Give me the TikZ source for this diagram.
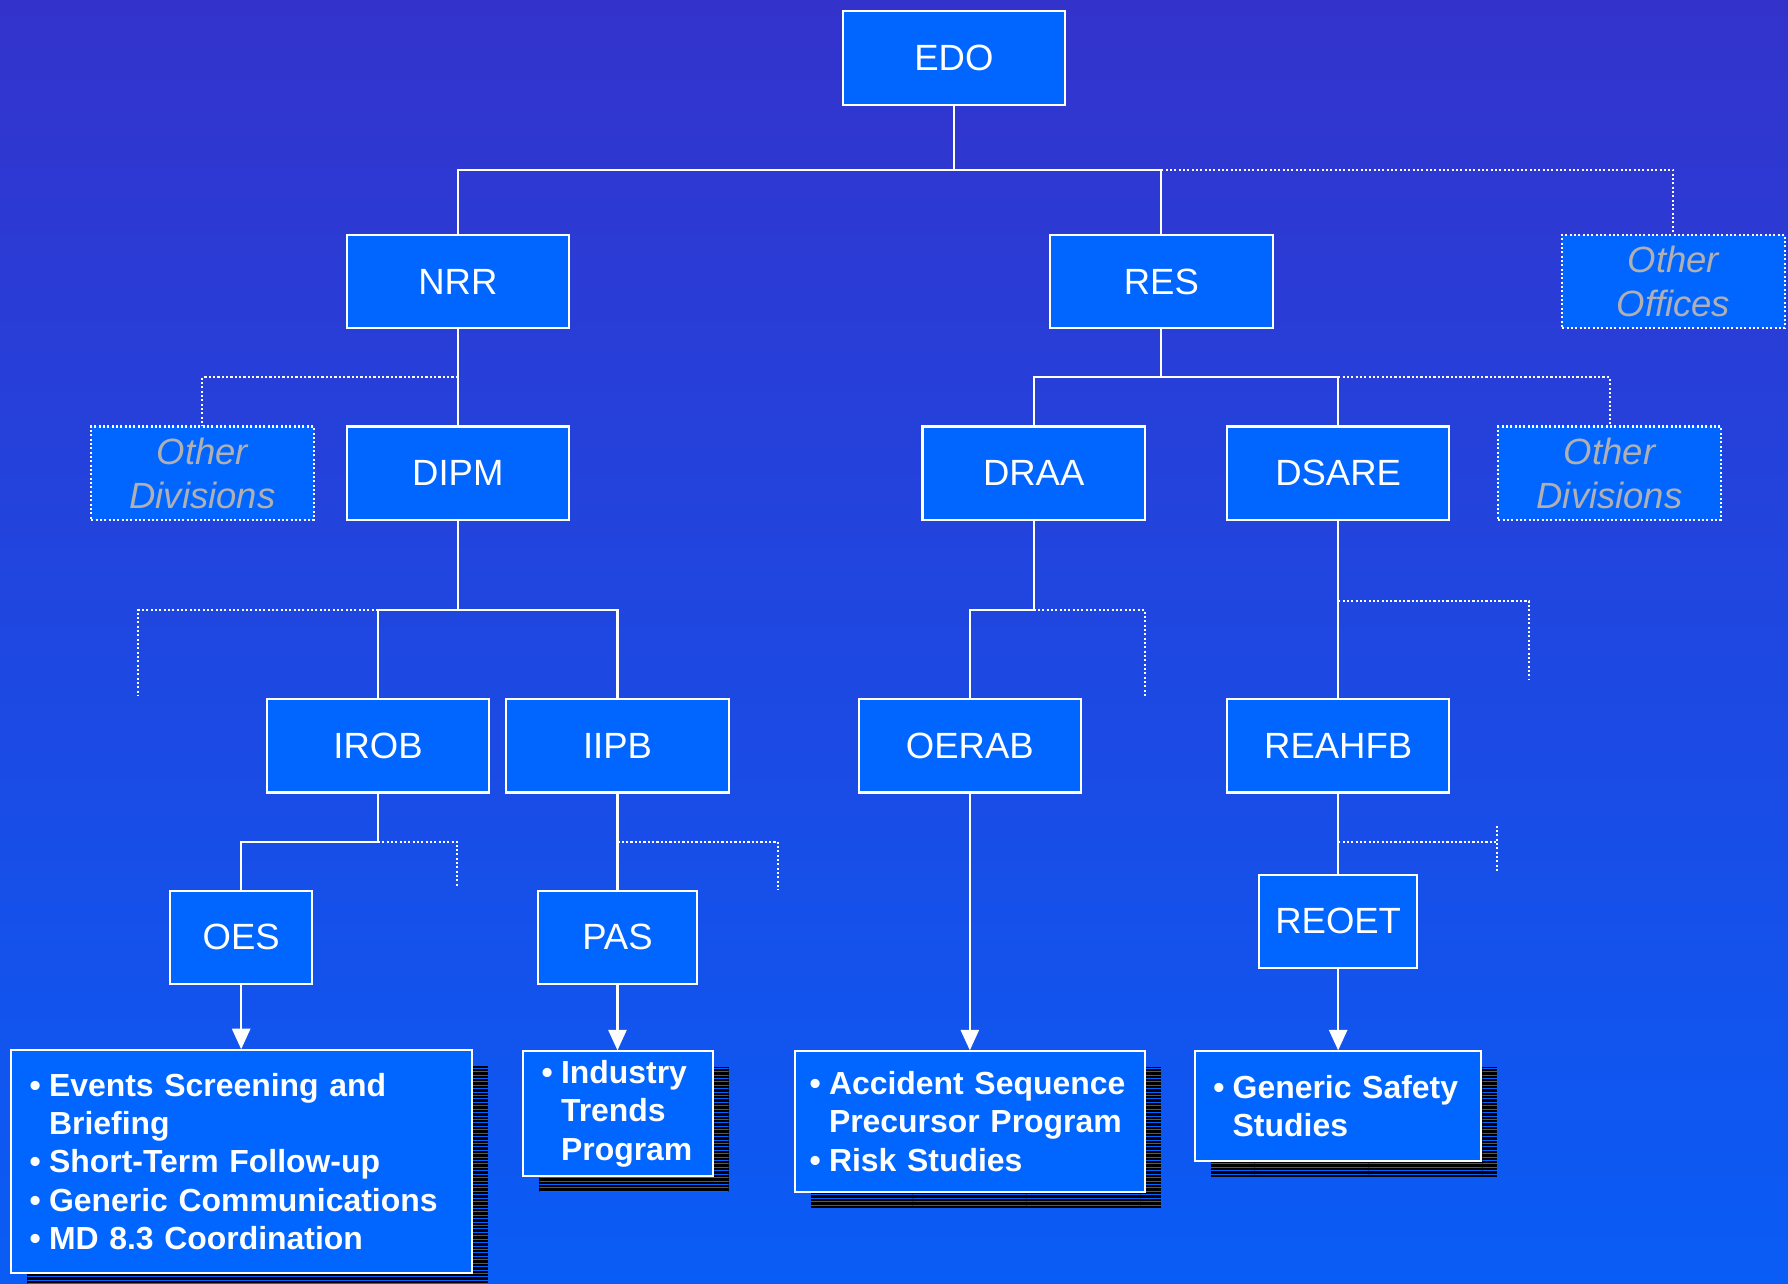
\documentclass[tikz,border=0pt]{standalone}
\usepackage{fontspec}
\setmainfont{Liberation Sans}
\usetikzlibrary{shapes,arrows.meta,positioning,shadows,patterns}
\definecolor{bgtop}{RGB}{51,51,204}
\definecolor{bgbot}{RGB}{10,92,246}
\definecolor{boxblue}{RGB}{0,102,255}
\definecolor{othergray}{RGB}{176,176,180}
\newcommand\bitem{\makebox[17pt][l]{\textbullet}}
\newcommand\bskip{\hspace*{17pt}}
\tikzset{
	unit/.style={draw=white,line width=1.8pt,fill=boxblue,text=white,minimum width=195pt,minimum height=82pt,inner sep=0pt,font=\fontsize{32}{38.4}\selectfont},
	other/.style={unit,dotted,text=othergray,align=center,font=\fontsize{32}{38.4}\selectfont\itshape},
	listbox/.style={draw=white,line width=1.8pt,fill=boxblue,text=white,align=left,inner xsep=16pt,inner ysep=0pt,font=\fontsize{28}{33.6}\selectfont\bfseries,
		general shadow={shadow xshift=14pt,shadow yshift=-14pt,fill=black},
		general shadow={shadow xshift=14pt,shadow yshift=-14pt,pattern=horizontal lines,pattern color=boxblue}},
	conn/.style={draw=white,line width=1.8pt},
	dotconn/.style={draw=white,line width=1.8pt,dotted},
	arr/.style={conn,-{Triangle[width=16pt,length=18pt]}}
}
\begin{document}
\begin{tikzpicture}[x=1pt,y=-1pt]
			\shade[top color=bgtop,bottom color=bgbot] (0,0) rectangle (1568,1126);
			\useasboundingbox (0,0) rectangle (1568,1126);
			\foreach \n/\x/\y/\w in {EDO/836.5/51/195,NRR/401.5/247/195,RES/1018.5/247/195,DIPM/401.5/415/195,DRAA/906.5/415/195,DSARE/1173.5/415/195,IROB/331.5/654/195,IIPB/541.5/654/195,OERAB/850.5/654/195,REAHFB/1173.5/654/195,OES/211.5/822/125,PAS/541.5/822/139,REOET/1173.5/808/139}
				\node[unit,minimum width=\w pt] (\n) at (\x,\y) {\n};
			\node[other] (offices) at (1467.5,247) {Other\\Offices};
			\node[other] (divsNRR) at (177.5,415) {Other\\Divisions};
			\node[other] (divsRES) at (1411.5,415) {Other\\Divisions};
			\node[listbox,minimum width=404pt,minimum height=195pt,text width=372pt] (listOES) at (212,1018.5) {\bitem Events Screening and\\\bskip Briefing\\\bitem Short-Term Follow-up\\\bitem Generic Communications\\\bitem MD 8.3 Coordination};
			\node[listbox,minimum width=166pt,minimum height=109pt,text width=134pt] (listPAS) at (542,976.5) {\bitem Industry\\\bskip Trends\\\bskip Program};
			\node[listbox,minimum width=307pt,minimum height=123pt,inner xsep=13pt,text width=281pt] (listOERAB) at (850.5,983.5) {\bitem \mbox{Accident Sequence}\\\bskip Precursor Program\\\bitem Risk Studies};
			\node[listbox,minimum width=251pt,minimum height=96pt,text width=219pt] (listREOET) at (1173.5,970) {\bitem Generic Safety\\\bskip Studies};
			\coordinate (jEDO) at (836.5,149);
			\coordinate (jNRR) at (401.5,331);
			\coordinate (jRES) at (1018.5,331);
			\coordinate (jDIPM) at (401.5,535);
			\coordinate (jDRAA) at (906.5,535);
			\coordinate (jDSARE) at (1173.5,527);
			\coordinate (jIROB) at (331.5,738);
			\coordinate (jIIPB) at (541.5,738);
			\coordinate (jREAHFB) at (1173.5,738);
			\coordinate (endDIPM) at (121,610);
			\coordinate (endDRAA) at (1004,612);
			\coordinate (endDSARE) at (1341,596);
			\coordinate (endIROB) at (401,778);
			\coordinate (endIIPB) at (682,780);
			\coordinate (endREAHFB) at (1313,738);
			\coordinate (tickA) at (1313,724);
			\coordinate (tickB) at (1313,765);
			\draw[conn] (EDO.south) -- (jEDO);
			\draw[conn] (NRR.north) |- (jEDO) -| (RES.north);
			\draw[dotconn] (RES.north |- jEDO) -| (offices.north);
			\draw[conn] (NRR.south) -- (DIPM.north);
			\draw[dotconn] (jNRR) -| (divsNRR.north);
			\draw[conn] (RES.south) -- (jRES);
			\draw[conn] (DRAA.north) |- (jRES) -| (DSARE.north);
			\draw[dotconn] (DSARE.north |- jRES) -| (divsRES.north);
			\draw[conn] (DIPM.south) -- (jDIPM);
			\draw[conn] (IROB.north) |- (jDIPM) -| (IIPB.north);
			\draw[dotconn] (IROB.north |- jDIPM) -| (endDIPM);
			\draw[conn] (DRAA.south) -- (jDRAA) -| (OERAB.north);
			\draw[dotconn] (jDRAA) -| (endDRAA);
			\draw[conn] (DSARE.south) -- (REAHFB.north);
			\draw[dotconn] (jDSARE) -| (endDSARE);
			\draw[conn] (IROB.south) -- (jIROB) -| (OES.north);
			\draw[dotconn] (jIROB) -| (endIROB);
			\draw[conn] (IIPB.south) -- (PAS.north);
			\draw[dotconn] (jIIPB) -| (endIIPB);
			\draw[conn] (REAHFB.south) -- (REOET.north);
			\draw[dotconn] (jREAHFB) -- (endREAHFB);
			\draw[dotconn] (tickA) -- (tickB);
			\draw[arr] (OES.south) -- (OES.south |- listOES.north);
			\draw[arr] (PAS.south) -- (PAS.south |- listPAS.north);
			\draw[arr] (OERAB.south) -- (OERAB.south |- listOERAB.north);
			\draw[arr] (REOET.south) -- (REOET.south |- listREOET.north);
		\end{tikzpicture}
\end{document}
